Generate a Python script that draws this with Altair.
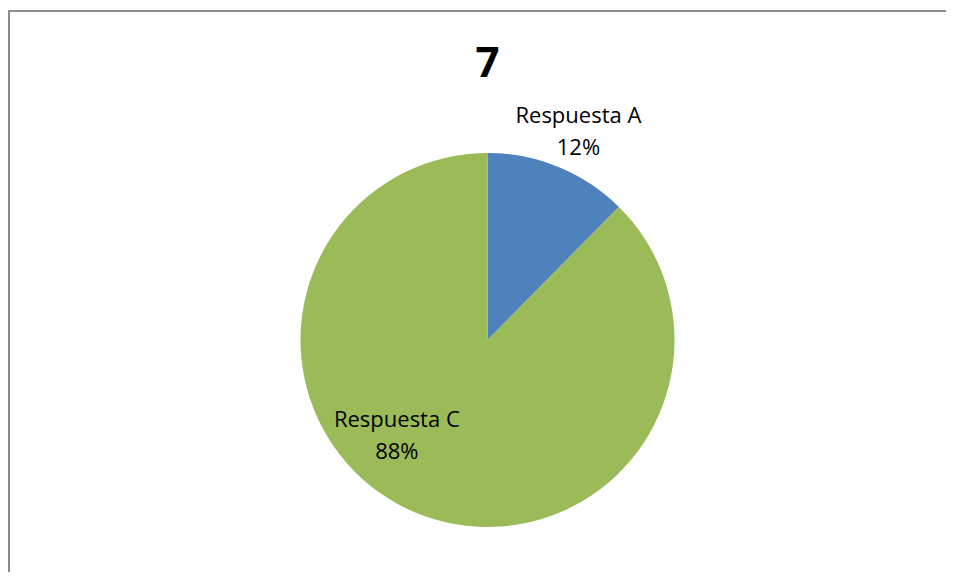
import math
import altair as alt
import pandas as pd

# ---- data ----
categories = ["Respuesta A", "Respuesta C"]
values = [12.4, 87.6]
slice_order = [0, 1]
colors = ["#4F81BD", "#9BBB59"]
title_text = "7"

FONT = "Open Sans"
W, H = 917, 464
R = 187

df = pd.DataFrame({"cat": categories, "value": values, "ord": slice_order})

pie = alt.Chart(df).mark_arc(outerRadius=R).encode(
    theta=alt.Theta("value:Q", stack=True),
    order=alt.Order("ord:Q", sort="ascending"),
    color=alt.Color("cat:N", scale=alt.Scale(domain=categories, range=colors), legend=None),
)

text_base = (
    alt.Chart(df)
    .transform_joinaggregate(total="sum(value)")
    .transform_window(cum="sum(value)", sort=[alt.SortField("ord", order="ascending")], frame=[None, 0])
    .transform_calculate(
        mid="(datum.cum - datum.value / 2) / datum.total",
        label="datum.cat + '\\n' + format(datum.value / 100, '.0%')",
    )
    .encode(
        theta=alt.Theta("mid:Q", scale=alt.Scale(domain=[0, 1], range=[0, 2 * math.pi])),
        text="label:N",
    )
)

txt_style = dict(font=FONT, fontSize=22, lineBreak="\n", lineHeight=32, color="black",
                 align="center", baseline="middle")

lab_a = text_base.transform_filter("datum.cat == 'Respuesta A'").mark_text(radius=242, dx=-1, **txt_style)
lab_c = text_base.transform_filter("datum.cat == 'Respuesta C'").mark_text(radius=86, dx=-58, **txt_style)

border_df = pd.DataFrame({"k": [0]})
top_rule = alt.Chart(border_df).mark_rule(color="#8C8C8C", strokeWidth=2).encode(
    x=alt.value(-21), x2=alt.value(W), y=alt.value(-97)
)
left_rule = alt.Chart(border_df).mark_rule(color="#8C8C8C", strokeWidth=2).encode(
    x=alt.value(-20), y=alt.value(-98), y2=alt.value(H)
)

chart = (
    alt.layer(top_rule, left_rule, pie, lab_a, lab_c)
    .resolve_scale(theta="independent")
    .properties(
        width=W,
        height=H,
        background="white",
        padding={"left": 21, "top": 100, "right": 0, "bottom": 0},
        autosize=alt.AutoSizeParams(type="none"),
        title=alt.Title(title_text, fontSize=42, font=FONT, fontWeight="bold",
                        anchor="middle", frame="group", baseline="alphabetic",
                        offset=-110, color="black"),
    )
    .configure_view(stroke="transparent")
)

chart.save("out.html", embed_options={"renderer": "svg", "actions": False})
